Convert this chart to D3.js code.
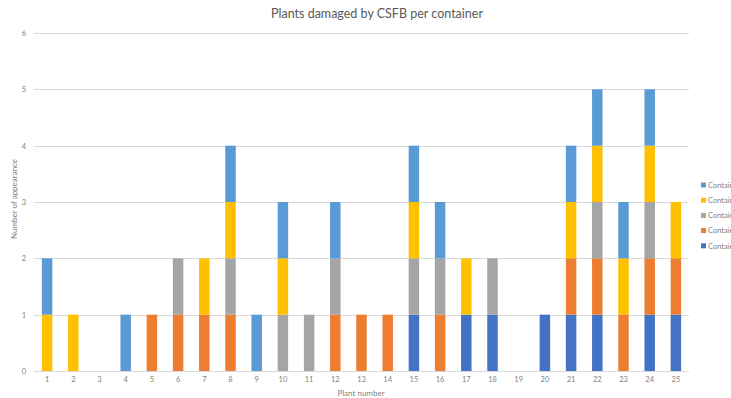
<!DOCTYPE html>
<html>
<head>
<meta charset="utf-8">
<script src="https://cdn.jsdelivr.net/npm/d3@7"></script>
<style>
  html, body { margin: 0; padding: 0; background: #fff; overflow: hidden; }
  svg { display: block; font-family: Lato, "Open Sans", sans-serif; }
</style>
</head>
<body>
<svg id="chart" width="731" height="398"></svg>
<script>
// Plant numbers along the x axis
const plants = d3.range(1, 26).map(String);

// Damage counts per container for plants 1..25
const container1 = [1,0,0,1,0,0,0,1,1,1,0,1,0,0,1,1,0,0,0,0,1,1,1,1,0];
const container2 = [0,0,0,0,1,1,1,1,0,0,0,1,1,1,0,1,0,0,0,0,1,1,1,1,1];
const container3 = [0,0,0,0,0,1,0,1,0,1,1,1,0,0,1,1,0,1,0,0,0,1,0,1,0];
const container4 = [1,1,0,0,0,0,1,1,0,1,0,0,0,0,1,0,1,0,0,0,1,1,1,1,1];
const container5 = [0,0,0,0,0,0,0,0,0,0,0,0,0,0,1,0,1,1,0,1,1,1,0,1,1];

const yTicks = [0, 1, 2, 3, 4, 5, 6];

// Series in stacking order, bottom to top
const series = [
  { name: "Container 5", color: "#4472C4", values: container5 },
  { name: "Container 2", color: "#ED7D31", values: container2 },
  { name: "Container 3", color: "#A5A5A5", values: container3 },
  { name: "Container 4", color: "#FFC000", values: container4 },
  { name: "Container 1", color: "#5B9BD5", values: container1 }
];

const rows = plants.map((p, i) => {
  const r = { plant: p };
  series.forEach(s => { r[s.name] = s.values[i]; });
  return r;
});

const stack = d3.stack().keys(series.map(s => s.name))(rows);

const svg = d3.select("#chart");
const plot = { left: 34, right: 689, top: 33, bottom: 371 };

const x = d3.scaleBand().domain(plants).range([plot.left, plot.right]).paddingInner(0.6).paddingOuter(0.3);
const y = d3.scaleLinear().domain([0, 6]).range([plot.bottom, plot.top]);

// Horizontal gridlines
svg.append("g").selectAll("line").data(yTicks).join("line")
  .attr("x1", plot.left).attr("x2", plot.right)
  .attr("y1", d => Math.round(y(d)) + 0.5).attr("y2", d => Math.round(y(d)) + 0.5)
  .attr("stroke", "#D9D9D9").attr("stroke-width", 1);

// Stacked bars
svg.append("g").selectAll("g").data(stack).join("g")
  .attr("fill", (d, i) => series[i].color)
  .selectAll("rect").data(d => d.filter(v => v[1] > v[0])).join("rect")
  .attr("x", d => x(d.data.plant))
  .attr("width", x.bandwidth())
  .attr("y", d => y(d[1]))
  .attr("height", d => y(d[0]) - y(d[1]));

// Y axis labels
const yAxis = svg.append("g").attr("transform", `translate(${plot.left - 8},0)`)
  .call(d3.axisLeft(y).tickValues(yTicks).tickSize(0).tickPadding(0).tickFormat(d3.format("d")));
yAxis.select(".domain").remove();
yAxis.selectAll("text").attr("fill", "#7f7f7f").attr("font-size", 7.5).attr("font-family", "Lato, sans-serif");

// X axis labels
const xAxis = svg.append("g").attr("transform", `translate(0,${plot.bottom + 6})`)
  .call(d3.axisBottom(x).tickSize(0).tickPadding(0));
xAxis.select(".domain").remove();
xAxis.selectAll("text").attr("fill", "#7f7f7f").attr("font-size", 7.5).attr("font-family", "Lato, sans-serif");

// Titles
svg.append("text").attr("x", 377).attr("y", 18).attr("text-anchor", "middle")
  .attr("font-size", 12.5).attr("fill", "#595959").text("Plants damaged by CSFB per container");

svg.append("text").attr("x", 361).attr("y", 396).attr("text-anchor", "middle")
  .attr("font-size", 8).attr("fill", "#7f7f7f").text("Plant number");

svg.append("text").attr("transform", "translate(17,199) rotate(-90)").attr("text-anchor", "middle")
  .attr("font-size", 8).attr("fill", "#7f7f7f").text("Number of appearance");

// Legend, listed top-down from the uppermost stacked series
const legend = svg.append("g").selectAll("g").data(series.slice().reverse()).join("g")
  .attr("transform", (d, i) => `translate(701,${185 + i * 15.2})`);
legend.append("rect").attr("x", 0).attr("y", -2.5).attr("width", 5).attr("height", 5).attr("fill", d => d.color);
legend.append("text").attr("x", 7).attr("y", 2.7).attr("font-size", 7.5).attr("fill", "#7f7f7f").text(d => d.name);
</script>
</body>
</html>
